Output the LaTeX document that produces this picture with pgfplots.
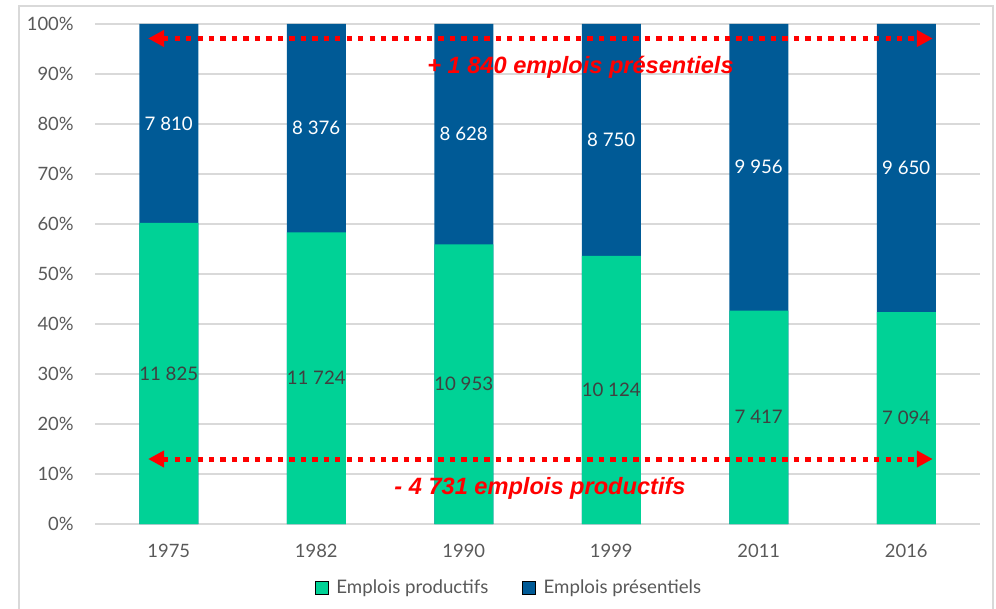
\documentclass[border=0pt]{standalone}
\usepackage{pgfplots}
\pgfplotsset{compat=1.18}
\usepackage{pgfplotstable}
\usetikzlibrary{arrows.meta}
\usepackage{fontspec}
\setmainfont{Lato}
\newfontfamily\arialfont{Liberation Sans}
\definecolor{prodgreen}{HTML}{00D296}
\definecolor{presblue}{HTML}{005A96}
\definecolor{gridgray}{HTML}{D9D9D9}
\definecolor{textgray}{HTML}{595959}
\definecolor{labelgray}{HTML}{404040}

\pgfplotstableread{
x year prod pres
0 1975 11825 7810
1 1982 11724 8376
2 1990 10953 8628
3 1999 10124 8750
4 2011 7417 9956
5 2016 7094 9650
}\data

\begin{document}
\begin{tikzpicture}[x=0.75pt,y=0.75pt]
\useasboundingbox (0,0) rectangle (996,608);
\begin{scope}
\clip (0,0) rectangle (996,608);
\draw[gridgray, line width=1.2pt] (19,-20) rectangle (993,602);
\end{scope}
\begin{axis}[
  at={(71.25pt,63pt)}, anchor=south west,
  scale only axis, width=663.75pt, height=375pt,
  xmin=-0.5, xmax=5.5, ymin=0, ymax=100,
  clip=false,
  xtick={0,...,5}, xticklabels={1975,1982,1990,1999,2011,2016},
  ytick={0,10,...,100},
  yticklabel={\pgfmathprintnumber{\tick}\%},
  /pgf/number format/assume math mode=true,
  axis line style={draw=none},
  major tick length=0pt,
  ymajorgrids,
  grid style={gridgray, line width=0.9pt},
  ticklabel style={font=\fontsize{13.8}{16}\selectfont, text=textgray},
  xticklabel style={yshift=-11.5pt},
  yticklabel style={xshift=-12.5pt},
  legend style={at={(0.468,-0.128)}, anchor=center, draw=none, fill=none,
    font=\fontsize{14}{16}\selectfont, text=textgray, inner sep=0pt,
    /tikz/every even column/.append style={column sep=23pt}},
  legend columns=2,
  legend image code/.code={\fill[#1] (0pt,-4.8pt) rectangle (9.8pt,5pt); \path (14pt,0pt);},
]
\addlegendimage{fill=prodgreen}
\addlegendentry{Emplois productifs}
\addlegendimage{fill=presblue}
\addlegendentry{Emplois présentiels}

\addplot[ybar, bar width=44.25pt, bar shift=0pt, fill=presblue, draw=none, forget plot]
  table[x=x, y expr={100}] {\data};
\addplot[ybar, bar width=44.25pt, bar shift=0pt, fill=prodgreen, draw=none, forget plot]
  table[x=x, y expr={100*\thisrow{prod}/(\thisrow{prod}+\thisrow{pres})}] {\data};

\addplot[draw=none, mark=none, forget plot, nodes near coords, point meta=\thisrow{prod},
  /pgf/number format/.cd, fixed, precision=0, 1000 sep={\ }, /pgfplots/.cd,
  every node near coord/.append style={anchor=center, text=labelgray, font=\fontsize{14}{16}\selectfont}]
  table[x=x, y expr={50*\thisrow{prod}/(\thisrow{prod}+\thisrow{pres})}] {\data};
\addplot[draw=none, mark=none, forget plot, nodes near coords, point meta=\thisrow{pres},
  /pgf/number format/.cd, fixed, precision=0, 1000 sep={\ }, /pgfplots/.cd,
  every node near coord/.append style={anchor=center, text=white, font=\fontsize{14}{16}\selectfont}]
  table[x=x, y expr={50+50*\thisrow{prod}/(\thisrow{prod}+\thisrow{pres})}] {\data};

\draw[red, line width=3.75pt, dash pattern=on 4pt off 4.6pt,
  {Triangle[length=12pt,width=12pt]}-{Triangle[length=12pt,width=12pt]}]
  (axis cs:-0.14,97.1) -- (axis cs:5.18,97.1);
\draw[red, line width=3.75pt, dash pattern=on 4pt off 4.6pt,
  {Triangle[length=12pt,width=12pt]}-{Triangle[length=12pt,width=12pt]}]
  (axis cs:-0.14,13) -- (axis cs:5.18,13);
\end{axis}
\node[red, font=\arialfont\bfseries\itshape\fontsize{17.7}{20}\selectfont] at (580.5,541) {+ 1 840 emplois présentiels};
\node[red, font=\arialfont\bfseries\itshape\fontsize{17.7}{20}\selectfont] at (540,119.5) {- 4 731 emplois productifs};
\end{tikzpicture}
\end{document}
